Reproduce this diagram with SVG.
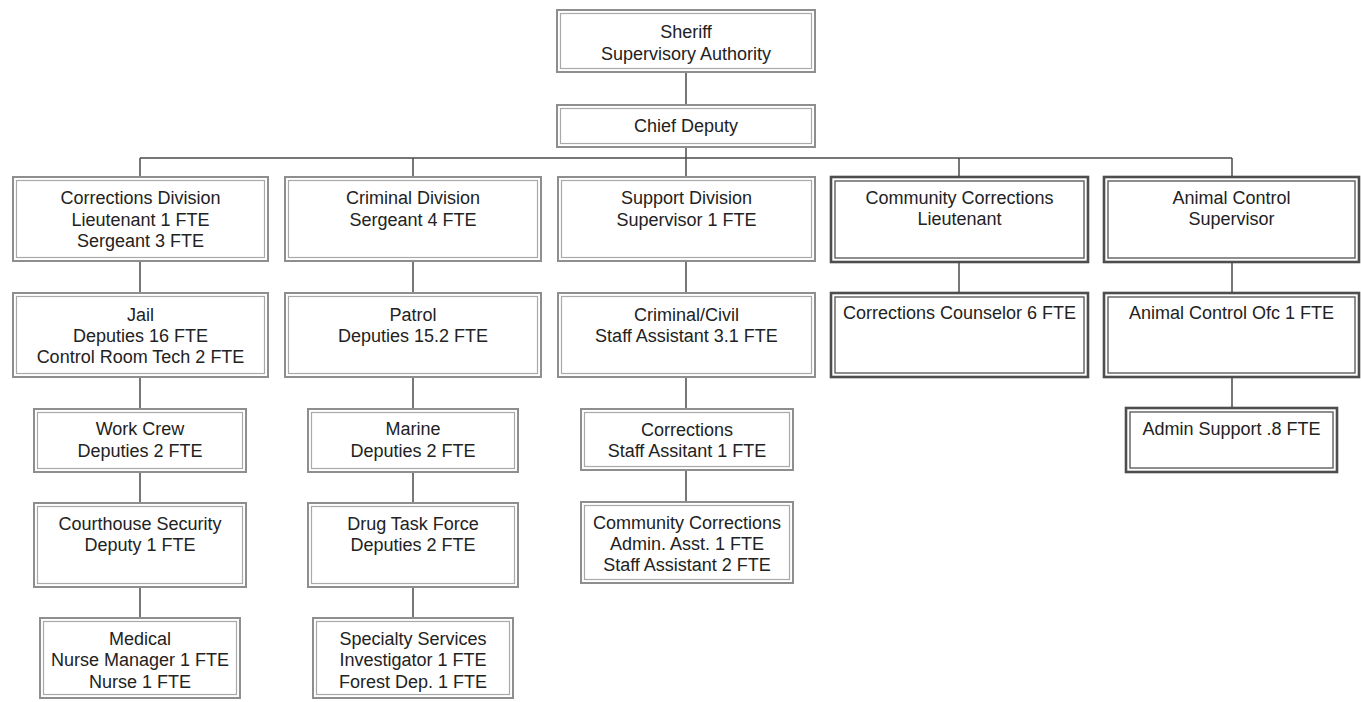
<svg xmlns="http://www.w3.org/2000/svg" width="1361" height="702" viewBox="0 0 1361 702">
<style>
  .o{fill:#fff;stroke:#8e8e8e;stroke-width:2}
  .i{fill:none;stroke:#a9a9a9;stroke-width:1.2}
  .od{fill:#fff;stroke:#4d4d4d;stroke-width:2.6}
  .id{fill:none;stroke:#5e5e5e;stroke-width:1.4}
  text{font-family:"Liberation Sans",Arial,sans-serif;font-size:18px;fill:#222;text-anchor:middle}
  .c line{stroke:#4a4a4a;stroke-width:1.5}
</style>
<rect width="1361" height="702" fill="#fff"/>
<g class="c" id="connectors">
  <line x1="686" y1="72" x2="686" y2="105"/>
  <line x1="686" y1="147" x2="686" y2="158"/>
  <line x1="140" y1="158" x2="1232" y2="158"/>
  <line x1="140" y1="158" x2="140" y2="177"/>
  <line x1="413" y1="158" x2="413" y2="177"/>
  <line x1="686" y1="158" x2="686" y2="177"/>
  <line x1="959" y1="158" x2="959" y2="177"/>
  <line x1="1232" y1="158" x2="1232" y2="177"/>
  <line x1="140" y1="261" x2="140" y2="293"/>
  <line x1="140" y1="377" x2="140" y2="409"/>
  <line x1="140" y1="472" x2="140" y2="503"/>
  <line x1="140" y1="587" x2="140" y2="618"/>
  <line x1="413" y1="261" x2="413" y2="293"/>
  <line x1="413" y1="377" x2="413" y2="409"/>
  <line x1="413" y1="472" x2="413" y2="503"/>
  <line x1="413" y1="587" x2="413" y2="618"/>
  <line x1="686" y1="261" x2="686" y2="293"/>
  <line x1="686" y1="377" x2="686" y2="409"/>
  <line x1="686" y1="470" x2="686" y2="502"/>
  <line x1="959" y1="262" x2="959" y2="293"/>
  <line x1="1232" y1="262" x2="1232" y2="293"/>
  <line x1="1232" y1="377" x2="1232" y2="408"/>
</g>
<g id="sheriff">
  <rect class="o" x="557" y="10" width="258" height="62"/><rect class="i" x="560.5" y="13.5" width="251" height="55"/>
  <text x="686" y="38">Sheriff</text><text x="686" y="60">Supervisory Authority</text>
</g>
<g id="chief-deputy">
  <rect class="o" x="557" y="105" width="258" height="42"/><rect class="i" x="560.5" y="108.5" width="251" height="35"/>
  <text x="686" y="132">Chief Deputy</text>
</g>
<g id="corrections-division">
  <rect class="o" x="13" y="177" width="255" height="84"/><rect class="i" x="16.5" y="180.5" width="248" height="77"/>
  <text x="140.5" y="204">Corrections Division</text><text x="140.5" y="226">Lieutenant 1 FTE</text><text x="140.5" y="247">Sergeant 3 FTE</text>
</g>
<g id="criminal-division">
  <rect class="o" x="285" y="177" width="256" height="84"/><rect class="i" x="288.5" y="180.5" width="249" height="77"/>
  <text x="413" y="204">Criminal Division</text><text x="413" y="226">Sergeant 4 FTE</text>
</g>
<g id="support-division">
  <rect class="o" x="558" y="177" width="257" height="84"/><rect class="i" x="561.5" y="180.5" width="250" height="77"/>
  <text x="686.5" y="204">Support Division</text><text x="686.5" y="226">Supervisor 1 FTE</text>
</g>
<g id="community-corrections">
  <rect class="od" x="831" y="177" width="257" height="85"/><rect class="id" x="835" y="181" width="249" height="77"/>
  <text x="959.5" y="204">Community Corrections</text><text x="959.5" y="225">Lieutenant</text>
</g>
<g id="animal-control">
  <rect class="od" x="1104" y="177" width="255" height="85"/><rect class="id" x="1108" y="181" width="247" height="77"/>
  <text x="1231.5" y="204">Animal Control</text><text x="1231.5" y="225">Supervisor</text>
</g>
<g id="jail">
  <rect class="o" x="13" y="293" width="255" height="84"/><rect class="i" x="16.5" y="296.5" width="248" height="77"/>
  <text x="140.5" y="321">Jail</text><text x="140.5" y="342">Deputies 16 FTE</text><text x="140.5" y="363">Control Room Tech 2 FTE</text>
</g>
<g id="patrol">
  <rect class="o" x="285" y="293" width="256" height="84"/><rect class="i" x="288.5" y="296.5" width="249" height="77"/>
  <text x="413" y="321">Patrol</text><text x="413" y="342">Deputies 15.2 FTE</text>
</g>
<g id="criminal-civil">
  <rect class="o" x="558" y="293" width="257" height="84"/><rect class="i" x="561.5" y="296.5" width="250" height="77"/>
  <text x="686.5" y="321">Criminal/Civil</text><text x="686.5" y="342">Staff Assistant 3.1 FTE</text>
</g>
<g id="corrections-counselor">
  <rect class="od" x="831" y="293" width="257" height="84"/><rect class="id" x="835" y="297" width="249" height="76"/>
  <text x="959.5" y="319">Corrections Counselor 6 FTE</text>
</g>
<g id="animal-control-ofc">
  <rect class="od" x="1104" y="293" width="255" height="84"/><rect class="id" x="1108" y="297" width="247" height="76"/>
  <text x="1231.5" y="319">Animal Control Ofc 1 FTE</text>
</g>
<g id="work-crew">
  <rect class="o" x="34" y="409" width="212" height="63"/><rect class="i" x="37.5" y="412.5" width="205" height="56"/>
  <text x="140" y="435">Work Crew</text><text x="140" y="457">Deputies 2 FTE</text>
</g>
<g id="marine">
  <rect class="o" x="308" y="409" width="210" height="63"/><rect class="i" x="311.5" y="412.5" width="203" height="56"/>
  <text x="413" y="435">Marine</text><text x="413" y="457">Deputies 2 FTE</text>
</g>
<g id="corrections">
  <rect class="o" x="581" y="409" width="212" height="61"/><rect class="i" x="584.5" y="412.5" width="205" height="54"/>
  <text x="687" y="436">Corrections</text><text x="687" y="457">Staff Assitant 1 FTE</text>
</g>
<g id="admin-support">
  <rect class="od" x="1126" y="408" width="211" height="64"/><rect class="id" x="1130" y="412" width="203" height="56"/>
  <text x="1231.5" y="435">Admin Support .8 FTE</text>
</g>
<g id="courthouse-security">
  <rect class="o" x="34" y="503" width="212" height="84"/><rect class="i" x="37.5" y="506.5" width="205" height="77"/>
  <text x="140" y="530">Courthouse Security</text><text x="140" y="551">Deputy 1 FTE</text>
</g>
<g id="drug-task-force">
  <rect class="o" x="308" y="503" width="210" height="84"/><rect class="i" x="311.5" y="506.5" width="203" height="77"/>
  <text x="413" y="530">Drug Task Force</text><text x="413" y="551">Deputies 2 FTE</text>
</g>
<g id="community-corrections-admin">
  <rect class="o" x="581" y="502" width="212" height="81"/><rect class="i" x="584.5" y="505.5" width="205" height="74"/>
  <text x="687" y="529">Community Corrections</text><text x="687" y="550">Admin. Asst. 1 FTE</text><text x="687" y="571">Staff Assistant 2 FTE</text>
</g>
<g id="medical">
  <rect class="o" x="40" y="618" width="200" height="80"/><rect class="i" x="43.5" y="621.5" width="193" height="73"/>
  <text x="140" y="645">Medical</text><text x="140" y="666">Nurse Manager 1 FTE</text><text x="140" y="688">Nurse 1 FTE</text>
</g>
<g id="specialty-services">
  <rect class="o" x="313" y="618" width="200" height="80"/><rect class="i" x="316.5" y="621.5" width="193" height="73"/>
  <text x="413" y="645">Specialty Services</text><text x="413" y="666">Investigator 1 FTE</text><text x="413" y="688">Forest Dep. 1 FTE</text>
</g>
</svg>
